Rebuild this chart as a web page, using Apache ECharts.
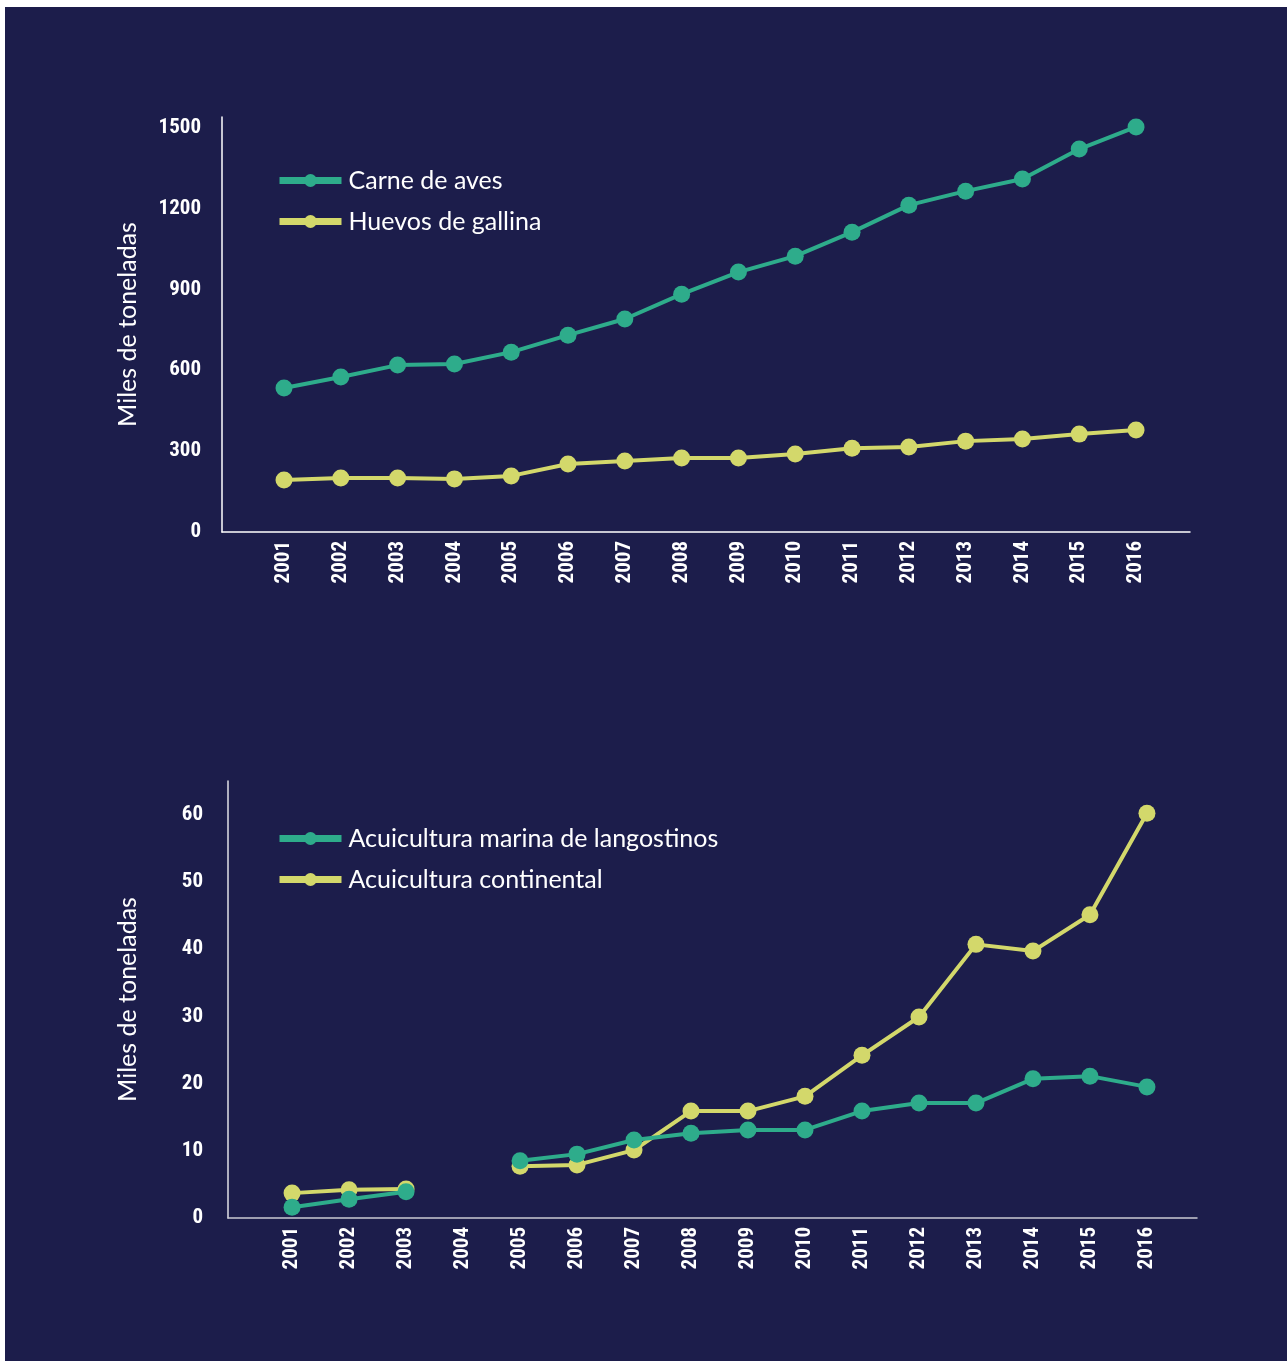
<!DOCTYPE html>
<html>
<head>
<meta charset="utf-8">
<script src="https://cdn.jsdelivr.net/npm/echarts@6/dist/echarts.min.js"></script>
<style>
  html, body { margin: 0; padding: 0; background: #ffffff; }
  #bg { position: absolute; left: 5px; top: 7px; width: 1282px; height: 1354px; background: #1c1d4b; }
  #chart { position: absolute; left: 0; top: 0; width: 1288px; height: 1361px; }
</style>
</head>
<body>
<div id="bg"></div>
<div id="chart"></div>
<script>
// ---- Data ----
const years = [2001, 2002, 2003, 2004, 2005, 2006, 2007, 2008, 2009, 2010, 2011, 2012, 2013, 2014, 2015, 2016];

// Top chart (miles de toneladas)
const carneDeAves    = [534, 575, 619, 623, 667, 730, 790, 882, 964, 1023, 1112, 1212, 1264, 1309, 1420, 1502];
const huevosDeGallina = [193, 200, 200, 197, 208, 252, 263, 274, 274, 289, 311, 315, 337, 345, 363, 378];
const topYTicks = [0, 300, 600, 900, 1200, 1500];

// Bottom chart (miles de toneladas); 2004 missing
const langostinos = [1.6, 2.8, 3.9, null, 8.5, 9.5, 11.6, 12.6, 13.1, 13.1, 15.9, 17.1, 17.1, 20.7, 21.1, 19.5];
const continental = [3.7, 4.2, 4.3, null, 7.7, 7.9, 10.1, 15.9, 15.9, 18.1, 24.2, 29.9, 40.7, 39.7, 45.1, 60.2];
const bottomYTicks = [0, 10, 20, 30, 40, 50, 60];

const names = {
  carne: 'Carne de aves',
  huevos: 'Huevos de gallina',
  lang: 'Acuicultura marina de langostinos',
  cont: 'Acuicultura continental'
};

// ---- Styling ----
const GREEN = '#2eac8b';
const YELLOW = '#d3d86b';
const NUM_FONT = '"Roboto Condensed", "DejaVu Sans Condensed", "Liberation Sans Narrow", sans-serif';
const TXT_FONT = 'Lato, "Open Sans", sans-serif';

function pairs(vals) { return years.map((y, i) => [y, vals[i]]); }

const numLabel = { color: '#ffffff', fontFamily: NUM_FONT, fontWeight: 'bold', fontSize: 21 };

function xAxis(gridIndex, min, max, lineColor) {
  return {
    type: 'value', gridIndex, min, max,
    splitLine: { show: false },
    axisTick: { show: false },
    axisLine: { show: true, onZero: false, lineStyle: { color: lineColor, width: 1.5 } },
    axisLabel: Object.assign({}, numLabel, {
      customValues: years, rotate: 90, margin: 9,
      formatter: v => String(v)
    })
  };
}
function yAxis(gridIndex, max, ticks, margin, nameGap, lineColor) {
  return {
    type: 'value', gridIndex, min: 0, max,
    name: 'Miles de toneladas', nameLocation: 'middle', nameGap,
    nameTextStyle: { color: '#ffffff', fontFamily: TXT_FONT, fontSize: 25 },
    splitLine: { show: false },
    axisTick: { show: false },
    axisLine: { show: true, lineStyle: { color: lineColor, width: 1.5 } },
    axisLabel: Object.assign({}, numLabel, { customValues: ticks, margin, formatter: v => String(v) })
  };
}
function series(name, vals, color, xi, yi, z) {
  return {
    name, type: 'line', xAxisIndex: xi, yAxisIndex: yi, z,
    data: pairs(vals),
    connectNulls: false,
    symbol: 'circle', symbolSize: 17,
    lineStyle: { color, width: 4 },
    itemStyle: { color },
    emphasis: { disabled: true }
  };
}
function legend(data, top) {
  return {
    data, orient: 'vertical', left: 271, top,
    itemWidth: 62, itemHeight: 16, itemGap: 16,
    textStyle: { color: '#ffffff', fontFamily: TXT_FONT, fontSize: 25, padding: [0, 0, 0, 2] },
    lineStyle: { width: 7 },
    selectedMode: false
  };
}

const chart = echarts.init(document.getElementById('chart'), null, { renderer: 'canvas' });
chart.setOption({
  backgroundColor: 'transparent',
  animation: false,
  grid: [
    { left: 222, top: 117, width: 968, height: 415 },
    { left: 228, top: 781, width: 969, height: 437 }
  ],
  legend: [
    legend([names.carne, names.huevos], 163),
    legend([names.lang, names.cont], 821)
  ],
  xAxis: [
    xAxis(0, 1999.908, 2016.95, '#ffffff'),
    xAxis(1, 1999.876, 2016.878, '#c9c9d2')
  ],
  yAxis: [
    yAxis(0, 1539, topYTicks, 21, 82, '#ffffff'),
    yAxis(1, 65, bottomYTicks, 25, 88, '#e0e0e6')
  ],
  series: [
    series(names.carne, carneDeAves, GREEN, 0, 0, 3),
    series(names.huevos, huevosDeGallina, YELLOW, 0, 0, 2),
    series(names.cont, continental, YELLOW, 1, 1, 2),
    series(names.lang, langostinos, GREEN, 1, 1, 3)
  ]
});
</script>
</body>
</html>
